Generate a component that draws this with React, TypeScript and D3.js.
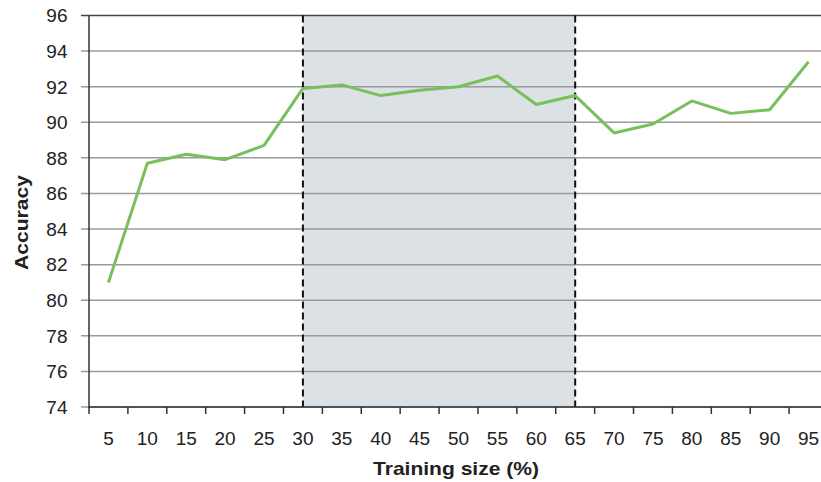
import React from "react";
import * as d3 from "d3";

const categories = ["5","10","15","20","25","30","35","40","45","50","55","60","65","70","75","80","85","90","95"];
const accuracy = [81.0, 87.7, 88.2, 87.9, 88.7, 91.9, 92.1, 91.5, 91.8, 92.0, 92.6, 91.0, 91.5, 89.4, 89.9, 91.2, 90.5, 90.7, 93.4];
const yTicks = [74, 76, 78, 80, 82, 84, 86, 88, 90, 92, 94, 96];
const shadeRange = ["30", "65"];

const W = 821, H = 482;
const left = 89, top = 15.5, bottom = 407, right = 828;

export default function App() {
  const x = d3.scaleBand().domain(categories).range([left, right]).padding(0);
  const y = d3.scaleLinear().domain([74, 96]).range([bottom, top]);
  const cx = (c: string) => (x(c) as number) + x.bandwidth() / 2;
  const line = d3.line<number>().x((_, i) => cx(categories[i])).y(d => y(d));
  const s0 = cx(shadeRange[0]), s1 = cx(shadeRange[1]);
  const font = "'Liberation Sans', Arial, sans-serif";
  return (
    <svg width={W} height={H} style={{ position: "fixed", left: 0, top: 0, background: "#fff" }} fontFamily={font}>
      <rect x={s0} y={top} width={s1 - s0} height={bottom - top} fill="#dbe1e4" />
      {yTicks.map(t => (
        <g key={t}>
          <line x1={left - 8} x2={W} y1={y(t)} y2={y(t)} stroke={t === 96 ? "#444" : "#9a9a9a"} strokeWidth={1.5} />
          <text x={67.5} y={y(t)} dy="0.36em" textAnchor="end" fontSize={19} fill="#222">{t}</text>
        </g>
      ))}
      <line x1={s0} x2={s0} y1={top} y2={bottom} stroke="#111" strokeWidth={2} strokeDasharray="7,4" />
      <line x1={s1} x2={s1} y1={top} y2={bottom} stroke="#111" strokeWidth={2} strokeDasharray="7,4" />
      <line x1={left} x2={left} y1={top} y2={bottom + 1} stroke="#333" strokeWidth={1.5} />
      <line x1={left} x2={W} y1={bottom} y2={bottom} stroke="#333" strokeWidth={1.5} />
      {categories.map(c => (
        <g key={c}>
          <line x1={x(c) as number} x2={x(c) as number} y1={bottom} y2={bottom + 7} stroke="#333" strokeWidth={1.5} />
          <text x={cx(c)} y={445} textAnchor="middle" fontSize={19} fill="#222">{c}</text>
        </g>
      ))}
      <path d={line(accuracy) || ""} fill="none" stroke="#77c05a" strokeWidth={3} strokeLinejoin="round" />
      <text x={456} y={475} textAnchor="middle" fontSize={19} fontWeight="bold" fill="#222" textLength={166} lengthAdjust="spacingAndGlyphs">Training size (%)</text>
      <text transform={`translate(28,${222.5}) rotate(-90)`} textAnchor="middle" fontSize={19} fontWeight="bold" fill="#222" textLength={95} lengthAdjust="spacingAndGlyphs">Accuracy</text>
    </svg>
  );
}
